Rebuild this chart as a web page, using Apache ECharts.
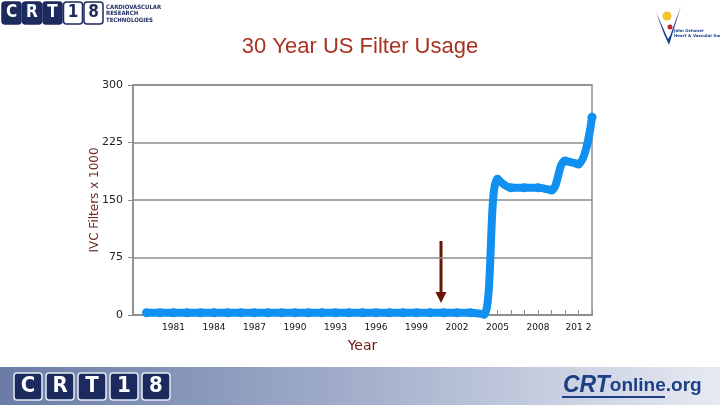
<!DOCTYPE html>
<html>
<head>
<meta charset="utf-8">
<script src="https://cdn.jsdelivr.net/npm/echarts@6/dist/echarts.min.js"></script>
<style>
html,body{margin:0;padding:0;background:#fff;}
#chart{width:720px;height:405px;}
</style>
</head>
<body>
<div id="chart"></div>
<script>
// ---- data ----
var years = ['1978','1979','1980','1981','1982','1983','1984','1985','1986','1987','1988','1989','1990','1991','1992','1993','1994','1995','1996','1997','1998','1999','2000','2001','2002','2003','2004','2005','2006','2007','2008','2009','2010','2011','2012'];
var filters = [null,3,3,3,3,3,3,3,3,3,3,3,3,3,3,3,3,3,3,3,3,3,3,3,3,3,1,177,166,166,166,163,201,197,258];
var tickLabels = ['1981','1984','1987','1990','1993','1996','1999','2002','2005','2008','201 2'];
var yTicks = [0,75,150,225,300];

var chart = echarts.init(document.getElementById('chart'));
var navy = '#1c2a5e';

function crtBoxes(x0, y0, w, h, gap, fs, style) {
  var letters = ['C','R','T','1','8'];
  var els = [];
  letters.forEach(function (l, i) {
    var light = style === 'top' && i >= 3;
    els.push({
      type: 'rect', shape: {x: x0 + i * (w + gap), y: y0, width: w, height: h, r: 3},
      style: {fill: light ? '#fff' : navy, stroke: light ? navy : (style === 'top' ? navy : '#e8ecf5'), lineWidth: 1.5}
    });
    els.push({
      type: 'text', x: x0 + i * (w + gap) + w / 2, y: y0 + h / 2,
      style: {text: l, fill: light ? navy : '#fff', font: 'bold ' + fs + 'px "DejaVu Sans Condensed","Liberation Sans Narrow","DejaVu Sans"', align: 'center', verticalAlign: 'middle'}
    });
  });
  return els;
}

var graphics = [];
// bottom banner
graphics.push({
  type: 'rect', shape: {x: 0, y: 367, width: 720, height: 38},
  style: {fill: new echarts.graphic.LinearGradient(0, 0, 1, 0, [
    {offset: 0, color: '#6a7ba6'}, {offset: 0.5, color: '#a3afcb'}, {offset: 1, color: '#e6eaf2'}])}
});
graphics = graphics.concat(crtBoxes(14, 373, 28, 27, 4, 22, 'bottom'));
graphics.push({
  type: 'text', x: 563, y: 386,
  style: {
    text: '{a|CRT}{b|online}{c|.org}', verticalAlign: 'middle',
    rich: {
      a: {font: 'italic bold 23px "Liberation Sans"', fill: '#1e3f86'},
      b: {font: 'bold 19px "Liberation Sans"', fill: '#1e3f86'},
      c: {font: 'bold 19px "Liberation Sans"', fill: '#1e3f86'}
    }
  }
});
graphics.push({type: 'line', shape: {x1: 562, y1: 397, x2: 665, y2: 397}, style: {stroke: '#1e3f86', lineWidth: 2}});

// top-left logo
graphics = graphics.concat(crtBoxes(2, 2, 19, 22, 1.5, 17, 'top'));
['CARDIOVASCULAR', 'RESEARCH', 'TECHNOLOGIES'].forEach(function (t, i) {
  graphics.push({type: 'text', x: 106, y: 4 + i * 6.5,
    style: {text: t, fill: navy, font: 'bold 6px "DejaVu Sans Condensed","Liberation Sans Narrow","DejaVu Sans"'}});
});

// top-right logo
graphics.push({type: 'polygon', shape: {points: [[656, 12], [664, 34], [669, 45], [673, 32], [681, 6], [670, 36], [668, 39]]}, style: {fill: '#1b3f8f'}});
graphics.push({type: 'circle', shape: {cx: 667, cy: 16, r: 4.5}, style: {fill: '#f5c02a'}});
graphics.push({type: 'circle', shape: {cx: 670, cy: 27, r: 2.5}, style: {fill: '#c0272d'}});
graphics.push({type: 'text', x: 674, y: 29, style: {text: 'John Ochsner', fill: '#1b3f8f', font: 'bold 4px "DejaVu Sans"'}});
graphics.push({type: 'text', x: 674, y: 34, style: {text: 'Heart & Vascular Institute', fill: '#1b3f8f', font: 'bold 4px "DejaVu Sans"'}});

// arrow annotation
graphics.push({type: 'line', shape: {x1: 441, y1: 241, x2: 441, y2: 294}, style: {stroke: '#6b1408', lineWidth: 3}});
graphics.push({type: 'polygon', shape: {points: [[435.5, 292], [446.5, 292], [441, 303]]}, style: {fill: '#6b1408'}});

var option = {
  animation: false,
  backgroundColor: '#fff',
  title: {
    text: '30 Year US Filter Usage', left: 'center', top: 31,
    textStyle: {color: '#a83220', fontSize: 22, fontWeight: 'normal', fontFamily: 'Liberation Sans'}
  },
  grid: {left: 133, right: 128, top: 85, bottom: 90, show: true, borderColor: '#8c8c8c', borderWidth: 1.5},
  xAxis: {
    type: 'category', data: years, boundaryGap: false,
    name: 'Year', nameLocation: 'middle', nameGap: 24, nameMoveOverlap: false,
    nameTextStyle: {color: '#6b1a10', fontSize: 14, fontFamily: 'DejaVu Sans'},
    axisLine: {lineStyle: {color: '#8c8c8c', width: 1.5}},
    axisTick: {inside: true, length: 5, interval: 0, lineStyle: {color: '#8c8c8c'}},
    axisLabel: {
      interval: 0, margin: 8, fontSize: 9, color: '#111', fontFamily: 'DejaVu Sans',
      formatter: function (v, i) { return (i > 0 && i % 3 === 0) ? tickLabels[i / 3 - 1] : ''; }
    },
    splitLine: {show: false}
  },
  yAxis: {
    type: 'value', min: yTicks[0], max: yTicks[yTicks.length - 1], interval: 75,
    name: 'IVC Filters x 1000', nameLocation: 'middle', nameGap: 32, nameMoveOverlap: false,
    nameTextStyle: {color: '#6b2a22', fontSize: 12, fontFamily: 'DejaVu Sans'},
    axisLine: {show: true, lineStyle: {color: '#8c8c8c', width: 1.5}},
    axisTick: {show: true, length: 5, lineStyle: {color: '#8c8c8c'}},
    axisLabel: {fontSize: 11, color: '#222', margin: 10, fontFamily: 'DejaVu Sans'},
    splitLine: {lineStyle: {color: '#8c8c8c', width: 1.5}}
  },
  series: [{
    type: 'line', data: filters, smooth: 0.35,
    symbol: 'circle', symbolSize: 9, showSymbol: true,
    lineStyle: {color: '#1090f0', width: 8},
    itemStyle: {color: '#1090f0'}
  }],
  graphic: graphics
};
chart.setOption(option);
</script>
</body>
</html>
